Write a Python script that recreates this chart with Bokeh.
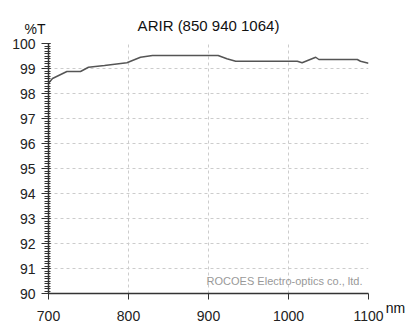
from bokeh.plotting import figure
from bokeh.models import SingleIntervalTicker, Label, Range1d
from bokeh.embed import file_html
from bokeh.resources import INLINE

wavelength = [700, 705, 723, 740, 750, 770, 798, 815, 830, 912, 923, 934,
              1011, 1017, 1034, 1038, 1086, 1090, 1100]
transmittance = [98.41, 98.6, 98.88, 98.88, 99.05, 99.12, 99.23, 99.45, 99.52,
                 99.52, 99.39, 99.29, 99.29, 99.23, 99.45, 99.36, 99.36, 99.29, 99.21]
title_text = "ARIR (850 940 1064)"
y_unit = "%T"
x_unit = "nm"
watermark = "ROCOES Electro-optics co., ltd."

FONT = "Liberation Sans"

p = figure(width=409, height=329, output_backend="svg", toolbar_location=None,
           x_range=Range1d(700, 1100), y_range=Range1d(90, 100),
           min_border_left=48, min_border_right=41, min_border_top=43,
           min_border_bottom=36)
p.outline_line_color = None
p.background_fill_color = "white"
p.border_fill_color = "white"

p.title.text = title_text
p.title.align = "center"
p.title.text_font = FONT
p.title.text_font_size = "15px"
p.title.text_font_style = "normal"
p.title.text_color = "#111111"
p.title.standoff = 19.5

p.line(wavelength, transmittance, line_color="#555555", line_width=1.5)

# axes
p.xaxis.ticker = SingleIntervalTicker(interval=100, num_minor_ticks=0)
p.yaxis.ticker = SingleIntervalTicker(interval=1, num_minor_ticks=10)
for ax in (p.xaxis, p.yaxis):
    ax.axis_line_color = "#333333"
    ax.axis_line_width = 1.5
    ax.major_tick_line_color = "#333333"
    ax.minor_tick_line_color = "#333333"
    ax.major_label_text_font = FONT
    ax.major_label_text_font_size = "14px"
    ax.major_label_text_color = "#222222"
p.xaxis.major_tick_out = 6
p.xaxis.major_tick_in = 0
p.xaxis.minor_tick_out = 0
p.xaxis.minor_tick_in = 0
p.xaxis.major_label_standoff = 11
p.yaxis.major_tick_out = 7
p.yaxis.major_tick_in = 2
p.yaxis.minor_tick_out = 4
p.yaxis.minor_tick_in = 2
p.yaxis.major_label_standoff = 6

for g in (p.xgrid, p.ygrid):
    g.grid_line_color = "#cccccc"
    g.grid_line_dash = "3 3"
    g.grid_line_width = 1

p.add_layout(Label(x=45, y=28, x_units="canvas", y_units="canvas", text=y_unit,
                   text_align="right", text_baseline="middle", text_font=FONT,
                   text_font_size="14px", text_color="#111111"), "right")
p.add_layout(Label(x=395, y=307, x_units="canvas", y_units="canvas", text=x_unit,
                   text_align="center", text_baseline="middle", text_font=FONT,
                   text_font_size="14px", text_color="#111111"), "right")
p.add_layout(Label(x=1092.5, y=90.52, text=watermark, text_align="right",
                   text_baseline="middle", text_font=FONT,
                   text_font_size="11px", text_color="#999999"))

open("out.html", "w").write(file_html(p, INLINE))
